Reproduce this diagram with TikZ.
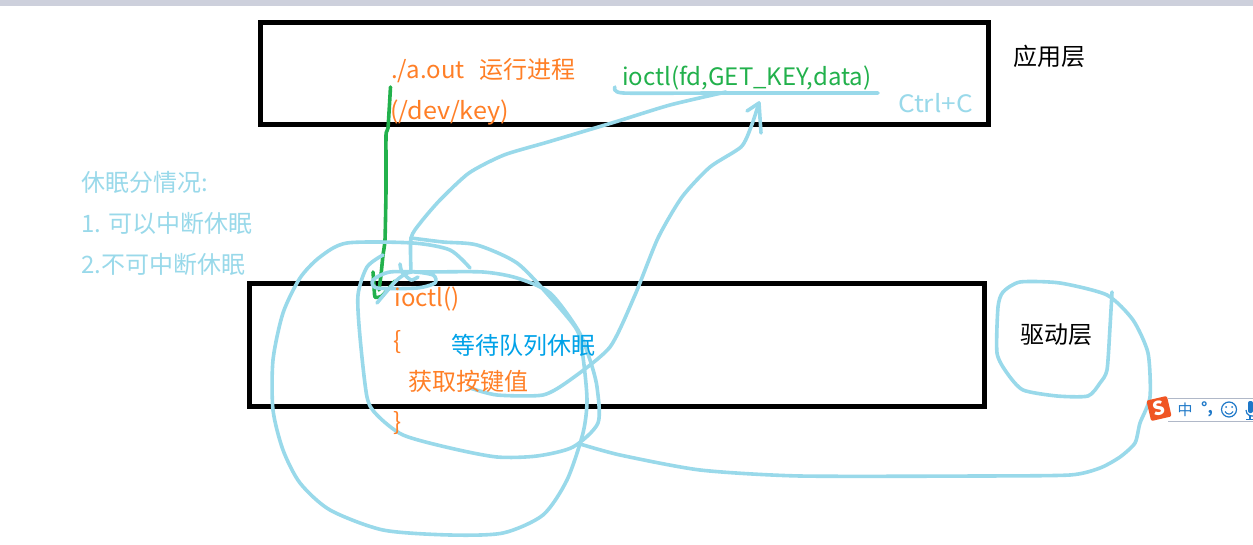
\documentclass[tikz,border=0pt]{standalone}
\usepackage{fontspec}
\setmainfont{Noto Sans CJK SC}
\definecolor{sky}{HTML}{99D9EA}
\definecolor{grn}{HTML}{22B14C}
\definecolor{org}{HTML}{FF7F27}
\definecolor{azure}{HTML}{00A2E8}
\definecolor{imeblue}{HTML}{1E78C8}
\tikzset{
  lbl/.style={anchor=base west,inner sep=0pt,font=\fontsize{24}{28}\selectfont},
  boxstroke/.style={draw=black,line width=5pt,fill=none},
  ink/.style={draw=sky,line width=3.6pt,line cap=round,line join=round},
  greenink/.style={draw=grn,line width=3.6pt,line cap=round,line join=round},
}
\begin{document}
\begin{tikzpicture}[x=1pt,y=-1pt]
\useasboundingbox (0,0) rectangle (1253,545);
\fill[white] (0,0) rectangle (1253,545);
\fill[color={rgb,255:red,205;green,208;blue,220}] (0,0) rectangle (1253,6);
% layer boxes
\draw[boxstroke] (260.5,22.5) rectangle (988,125);
\draw[boxstroke] (249.5,284) rectangle (984,406);
% green call line
\draw[greenink] plot[smooth,tension=0.3] coordinates {(390.5,87) (388,128) (386,135) (386,190) (385,240) (383,255) (381,275) (379,290)};
\draw[greenink] plot[smooth,tension=0.3] coordinates {(373,272) (374,285) (375,297) (382,296) (395,281)};
% big outer loop
\draw[ink] plot[smooth,tension=0.45] coordinates {(470,268) (450,250) (413,243) (347,243) (320,257) (300,278) (283,313) (273,360) (273,410) (283,450) (300,483) (330,510) (383,530) (450,535) (503,533) (543,515) (567,480) (583,433) (587,400) (583,357) (577,330) (550,297) (517,263) (477,245) (443,242) (411,238)};
% inner loop
\draw[ink] plot[smooth,tension=0.45] coordinates {(383,255) (367,267) (358,295) (360,337) (367,397) (377,415) (403,435) (450,448) (497,457) (537,456) (573,447) (598,423) (597,387) (590,360) (578,330) (550,293) (517,278) (483,272) (427,272) (390,272) (373,280) (377,288) (417,288) (435,283) (433,275) (411,272) (397,280) (377,303)};
\draw[ink] plot[smooth,tension=0.4] coordinates {(400,264) (402,272) (411,280) (418,277)};
% first arrow stem up to the underlined call
\draw[ink] plot[smooth,tension=0.4] coordinates {(411,272) (411,238) (421,222) (440,200) (469,173) (504,155) (548,142) (615,122) (670,105) (726,92)};
\draw[ink] plot[smooth,tension=0.4] coordinates {(615,87) (623,93) (718,93) (878,93)};
% second arrow
\draw[ink] plot[smooth,tension=0.4] coordinates {(470,388) (497,395) (543,395) (570,380) (610,347) (635,295) (658,238) (682,197) (710,167) (741,147) (751,127) (759,103)};
\draw[ink] (747,111) -- (759,103) -- (761,133);
% driver loop and tail
\draw[ink] plot[smooth,tension=0.4] coordinates {(1112,292) (1110,327) (1107,370) (1100,383) (1088,396) (1057,396) (1023,390) (1007,373) (997,353) (998,307) (1003,292) (1020,282) (1060,283) (1107,295) (1133,320) (1148,353) (1150,397) (1140,423) (1135,443) (1120,457) (1100,468) (1070,475) (980,476) (800,476) (700,470) (620,455) (580,444)};
% texts
\node[lbl,text=org] (run) at (391,79) {./a.out\ \ \hspace{4pt}运行进程};
\node[lbl,text=org,xscale=1.05] (dev) at (390,120) {(/dev/key)};
\node[lbl,text=grn] (call) at (622,86) {ioctl(fd,GET\_KEY,data)};
\node[lbl,text=sky,xscale=1.09] (ctrl) at (898,113) {Ctrl+C};
\node[lbl] (app) at (1013,66) {应用层};
\node[lbl] (drv) at (1020,343) {驱动层};
\node[lbl,text=sky] (s1) at (81,192) {休眠分情况:};
\node[lbl,text=sky] (s2) at (81,233) {1. 可以中断休眠};
\node[lbl,text=sky] (s3) at (81,274) {2.不可中断休眠};
\node[lbl,text=org] (fn) at (394.5,307) {ioctl()};
\node[lbl,text=org] (ob) at (393.5,349) {\{};
\node[lbl,text=org] (get) at (408,390) {获取按键值};
\node[lbl,text=org] (cb) at (393.5,430) {\}};
\node[lbl,text=azure] (wait) at (451,354) {等待队列休眠};
% input method bar
\fill[white] (1168,398) rectangle (1253,421);
\draw[color={rgb,255:red,176;green,184;blue,200},line width=1pt] (1168,398.5) -- (1253,398.5) (1168,421) -- (1253,421);
\node[rotate=13,fill={rgb,255:red,240;green,85;blue,35},rounded corners=2pt,minimum size=21pt,inner sep=0pt,text=white,font=\fontsize{19}{19}\selectfont\bfseries] (ime) at (1159,408.5) {S};
\node[anchor=center,inner sep=0pt,text=imeblue,font=\fontsize{15}{15}\selectfont] (zh) at (1185,409.5) {中};
\node[anchor=center,inner sep=0pt,text=imeblue,font=\fontsize{15}{15}\selectfont\bfseries] (pt) at (1207,409) {°,};
\draw[imeblue,line width=1.2pt] (1229,409.5) circle (7.5);
\fill[imeblue] (1226,407) circle (1) (1232,407) circle (1);
\draw[imeblue,line width=1.1pt] (1225,411.5) .. controls (1227,415) and (1231,415) .. (1233,411.5);
\fill[imeblue,rounded corners=2pt] (1248,401) rectangle (1253,413);
\draw[imeblue,line width=1.2pt] (1246,410) .. controls (1246,416) and (1252,416) .. (1253,416);
\draw[imeblue,line width=1.5pt] (1250,416) -- (1250,419) (1246,419.5) -- (1253,419.5);
\end{tikzpicture}
\end{document}
